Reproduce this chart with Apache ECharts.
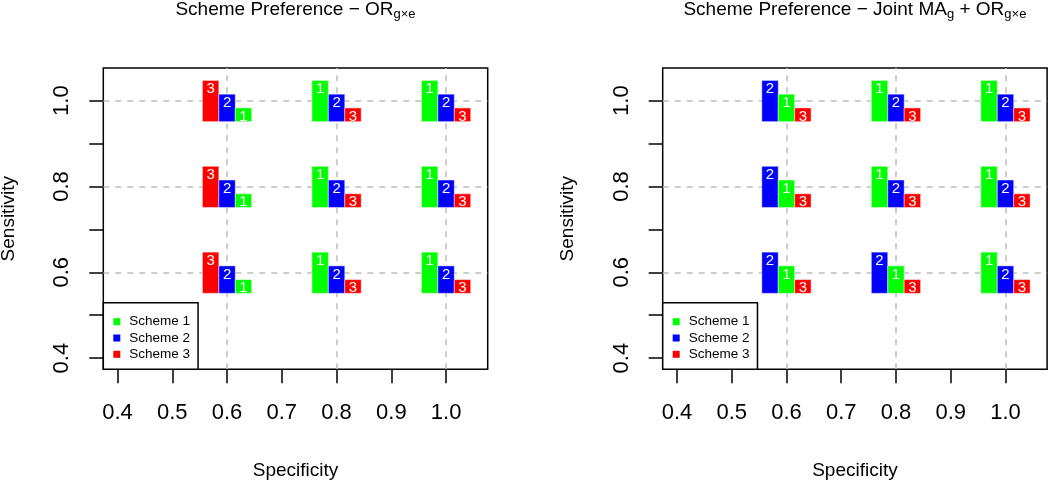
<!DOCTYPE html>
<html>
<head>
    <meta charset="utf-8">
    <title>Scheme Preference</title>
    <script src="https://cdn.jsdelivr.net/npm/echarts@6/dist/echarts.min.js"></script>
    <style>
        html, body { margin: 0; padding: 0; background: #fff; }
    </style>
</head>
<body>

<div id="main" style="width: 1050px;height:480px;"></div>

<script type="text/javascript">

    // grid positions of the bar clusters
    var specificity = [0.6, 0.8, 1.0];
    var sensitivity = [0.6, 0.8, 1.0];

    var xTicks = [0.4, 0.5, 0.6, 0.7, 0.8, 0.9, 1.0];
    var yTicks = [0.4, 0.5, 0.6, 0.7, 0.8, 0.9, 1.0];
    var yTickLabels = [0.4, 0.6, 0.8, 1.0];

    var schemes = ['Scheme 1', 'Scheme 2', 'Scheme 3'];
    var schemeColors = ['#00ff00', '#0000ff', '#ff0000'];

    // bar height score for the 1st, 2nd and 3rd preferred scheme
    var preferenceScores = [3, 2, 1];

    // scheme numbers, most to least preferred
    // rows follow sensitivity (0.6, 0.8, 1.0), columns follow specificity (0.6, 0.8, 1.0)
    var orderORgxe = [
        [[3, 2, 1], [1, 2, 3], [1, 2, 3]],
        [[3, 2, 1], [1, 2, 3], [1, 2, 3]],
        [[3, 2, 1], [1, 2, 3], [1, 2, 3]]
    ];
    var orderJoint = [
        [[2, 1, 3], [2, 1, 3], [1, 2, 3]],
        [[2, 1, 3], [1, 2, 3], [1, 2, 3]],
        [[2, 1, 3], [1, 2, 3], [1, 2, 3]]
    ];

    var FONT = 'Liberation Sans, Arial, Helvetica, sans-serif';
    var BAR_W = 0.03;     // bar width in axis units
    var BASE_OFF = 0.049; // bar base below the sensitivity line
    var UNIT = 0.032;     // height of one score unit

    function buildData(order) {
        var out = [];
        sensitivity.forEach(function (se, i) {
            specificity.forEach(function (sp, j) {
                order[i][j].forEach(function (scheme, k) {
                    out.push([sp, se, k, scheme, preferenceScores[k]]);
                });
            });
        });
        return out;
    }

    function renderBar(params, api) {
        var x = api.value(0), y = api.value(1), k = api.value(2);
        var scheme = api.value(3), score = api.value(4);
        var xl = x - 1.5 * BAR_W + k * BAR_W;
        var p0 = api.coord([xl, y - BASE_OFF]);
        var p1 = api.coord([xl + BAR_W, y - BASE_OFF + score * UNIT]);
        return {
            type: 'group',
            children: [{
                type: 'rect', z2: 10,
                shape: { x: p0[0], y: p1[1], width: p1[0] - p0[0], height: p0[1] - p1[1] },
                style: { fill: schemeColors[scheme - 1], stroke: 'rgba(255,255,255,0.45)', lineWidth: 1 }
            }, {
                type: 'text', z2: 11,
                x: (p0[0] + p1[0]) / 2,
                y: p1[1] + 8.5,
                style: {
                    text: String(scheme), fill: '#fff', fontSize: 15, fontFamily: FONT,
                    align: 'center', verticalAlign: 'middle'
                }
            }]
        };
    }

    var grids = [
        { left: 103.3, top: 68, width: 384.4, height: 301.3 },
        { left: 662.7, top: 68, width: 384.4, height: 301.3 }
    ];

    function xAxis(idx) {
        return {
            gridIndex: idx, type: 'value', min: 0.374, max: 1.076,
            axisLine: { show: false },
            axisTick: { show: true, inside: false, length: 14, customValues: xTicks,
                        lineStyle: { color: '#000', width: 1.5 } },
            axisLabel: { customValues: xTicks, fontSize: 22, color: '#000', fontFamily: FONT, margin: 33,
                         formatter: function (v) { return v.toFixed(1); } },
            splitLine: { show: false },
            name: 'Specificity', nameLocation: 'middle', nameGap: 92,
            nameTextStyle: { fontSize: 19, color: '#000', fontFamily: FONT }
        };
    }

    function yAxis(idx) {
        return {
            gridIndex: idx, type: 'value', min: 0.374, max: 1.076,
            axisLine: { show: false },
            axisTick: { show: true, inside: false, length: 14, customValues: yTicks,
                        lineStyle: { color: '#000', width: 1.5 } },
            axisLabel: { customValues: yTickLabels, fontSize: 22, color: '#000', fontFamily: FONT,
                         margin: 30, rotate: 90,
                         formatter: function (v) { return v.toFixed(1); } },
            splitLine: { show: false },
            name: 'Sensitivity', nameLocation: 'middle', nameGap: 85,
            nameTextStyle: { fontSize: 19, color: '#000', fontFamily: FONT }
        };
    }

    function refLines(idx) {
        var lines = specificity.map(function (v) { return { xAxis: v }; })
            .concat(sensitivity.map(function (v) { return { yAxis: v }; }));
        return {
            type: 'line', xAxisIndex: idx, yAxisIndex: idx, data: [], z: 1,
            silent: true,
            markLine: {
                z: 1, silent: true, symbol: 'none', animation: false,
                label: { show: false },
                lineStyle: { color: '#bdbdbd', width: 1.5, type: [6, 6] },
                data: lines
            }
        };
    }

    function legend(idx) {
        return {
            data: schemes, orient: 'vertical',
            left: grids[idx].left, top: 302.7,
            padding: [12, 8, 8, 10],
            itemWidth: 7, itemHeight: 7, itemGap: 2.3,
            icon: 'rect',
            borderColor: '#000', borderWidth: 1.5, borderRadius: 0,
            backgroundColor: '#fff',
            textStyle: { fontSize: 13.5, color: '#000', fontFamily: FONT, padding: [0, 0, 0, 4] },
            selectedMode: false
        };
    }

    var titleRich = {
        sub: { fontSize: 13, fontFamily: FONT, fill: '#000', padding: [8, 0, 0, 0], lineHeight: 13 }
    };

    var myChart = echarts.init(document.getElementById('main'), null, { renderer: 'canvas' });

    var dummy = schemes.map(function (name, i) {
        return { name: name, type: 'scatter', data: [], xAxisIndex: 0, yAxisIndex: 0,
                 itemStyle: { color: schemeColors[i], opacity: 1 } };
    });

    myChart.setOption({
        animation: false,
        backgroundColor: '#fff',
        grid: grids.map(function (g) {
            return { left: g.left, top: g.top, width: g.width, height: g.height,
                     outerBoundsMode: 'none', containLabel: false,
                     show: true, borderColor: '#000', borderWidth: 1.5, backgroundColor: 'transparent' };
        }),
        xAxis: [xAxis(0), xAxis(1)],
        yAxis: [yAxis(0), yAxis(1)],
        legend: [legend(0), legend(1)],
        graphic: [{
            type: 'text', x: 295.5, y: 10,
            style: {
                text: 'Scheme Preference \u2212 OR{sub|g\u00d7e}',
                fontSize: 19, fontFamily: FONT, fill: '#000', lineHeight: 22,
                align: 'center', verticalAlign: 'middle', rich: titleRich
            }
        }, {
            type: 'text', x: 854.9, y: 10,
            style: {
                text: 'Scheme Preference \u2212 Joint MA{sub|g} + OR{sub|g\u00d7e}',
                fontSize: 19, fontFamily: FONT, fill: '#000', lineHeight: 22,
                align: 'center', verticalAlign: 'middle', rich: titleRich
            }
        }],
        series: [
            refLines(0), refLines(1),
            {
                type: 'custom', xAxisIndex: 0, yAxisIndex: 0, z: 3, clip: false,
                encode: { x: 0, y: 1 }, renderItem: renderBar, data: buildData(orderORgxe)
            },
            {
                type: 'custom', xAxisIndex: 1, yAxisIndex: 1, z: 3, clip: false,
                encode: { x: 0, y: 1 }, renderItem: renderBar, data: buildData(orderJoint)
            }
        ].concat(dummy)
    });

</script>
</body>
</html>
